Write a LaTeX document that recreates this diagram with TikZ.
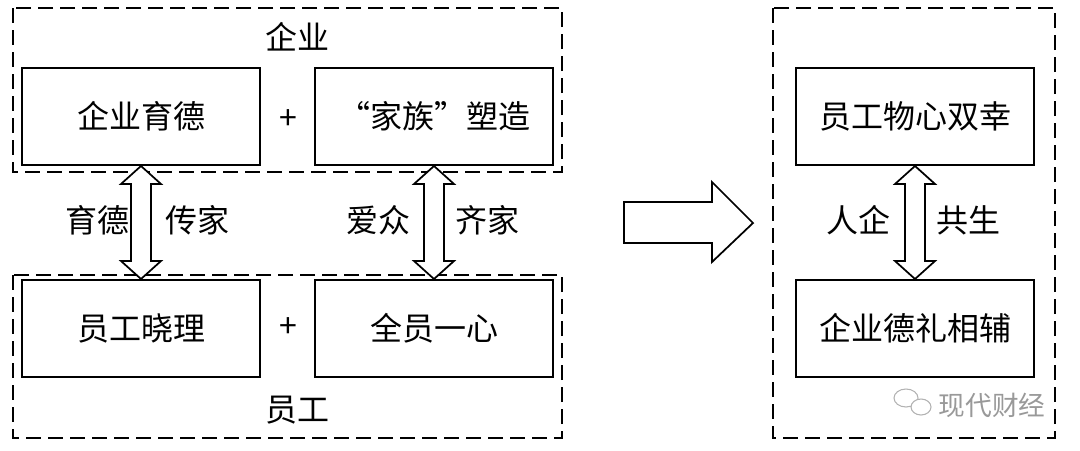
\documentclass[tikz,border=0pt]{standalone}
\usepackage{fontspec}
\setmainfont{Noto Sans CJK SC}
\usetikzlibrary{calc}
\tikzset{
  box/.style={draw, line width=1.5pt, minimum width=178.5pt, minimum height=72.75pt, inner sep=0pt},
  group/.style={line width=1.5pt, dash pattern=on 11pt off 5.5pt},
  txt/.style={font=\fontsize{24}{28}\selectfont, inner sep=0pt},
  dbl/.style={draw, line width=1.3pt, line join=miter, fill=white}
}
% double arrow between two boxes
\newcommand{\dblarrow}[2]{%
  \draw[dbl] (#1.south) -- ++(20,18) -- ++(-10,0) -- ($(#2.north)+(10,-18)$) -- ++(10,0)
    -- (#2.north) -- ++(-20,-18) -- ++(10,0) -- ($(#1.south)+(-10,18)$) -- ++(-10,0) -- cycle;}
\begin{document}
\begin{tikzpicture}[x=0.75pt,y=-0.75pt]
\useasboundingbox (0,0) rectangle (1080,450);
\draw[group] (13,8) rectangle (562,172);
\draw[group] (13,275) rectangle (562,438);
\draw[group] (773,8) rectangle (1055,438);
\node[txt] (qiye) at (297,37) {企业};
\node[txt] (yuangong) at (297,410) {员工};
\node[box,txt] (yude) at (141,116.5) {企业育德};
\node[box,txt] (jiazu) at (434,116.5) {“家族”塑造};
\node[box,txt] (xiaoli) at (141,328.5) {员工晓理};
\node[box,txt] (yixin) at (434,328.5) {全员一心};
\node[txt] (plusa) at (288,120) {+};
\node[txt] (plusb) at (288,328) {+};
\node[box,txt] (shuangxing) at (915,116.5) {员工物心双幸};
\node[box,txt] (xiangfu) at (915,328.5) {企业德礼相辅};
\dblarrow{yude}{xiaoli}
\dblarrow{jiazu}{yixin}
\dblarrow{shuangxing}{xiangfu}
\node[txt] (la) at (97,220) {育德};
\node[txt] (lb) at (197,220) {传家};
\node[txt] (lc) at (378,220) {爱众};
\node[txt] (ld) at (487,220) {齐家};
\node[txt] (le) at (858,220) {人企};
\node[txt] (lf) at (968,220) {共生};
% big arrow
\draw[line width=1.3pt, line join=miter] (624,202) -- (712,202) -- (712,182) -- (753,223)
  -- (712,262) -- (712,243) -- (624,243) -- cycle;
% watermark
\draw[gray!60, line width=0.8pt] (906,398) ellipse[x radius=12, y radius=9];
\draw[gray!60, line width=0.8pt, fill=white] (921,407) ellipse[x radius=10, y radius=8];
\node[txt, gray!80, font=\fontsize{20}{24}\selectfont] (mark) at (992,405) {现代财经};
\end{tikzpicture}
\end{document}
